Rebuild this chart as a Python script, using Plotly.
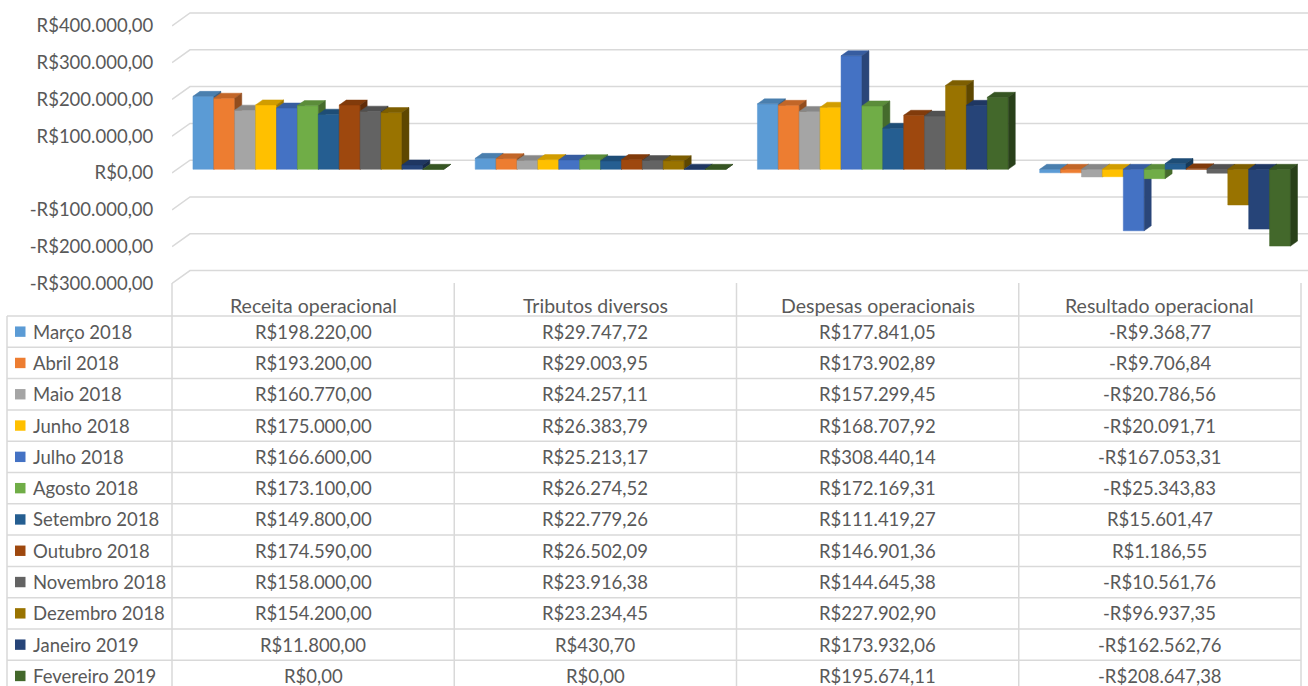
import plotly.graph_objects as go

# ---------------- data ----------------
categories = ["Receita operacional", "Tributos diversos", "Despesas operacionais", "Resultado operacional"]
months = ["Março 2018", "Abril 2018", "Maio 2018", "Junho 2018", "Julho 2018", "Agosto 2018",
          "Setembro 2018", "Outubro 2018", "Novembro 2018", "Dezembro 2018", "Janeiro 2019", "Fevereiro 2019"]
receita = [198220.00, 193200.00, 160770.00, 175000.00, 166600.00, 173100.00,
           149800.00, 174590.00, 158000.00, 154200.00, 11800.00, 0.00]
tributos = [29747.72, 29003.95, 24257.11, 26383.79, 25213.17, 26274.52,
            22779.26, 26502.09, 23916.38, 23234.45, 430.70, 0.00]
despesas = [177841.05, 173902.89, 157299.45, 168707.92, 308440.14, 172169.31,
            111419.27, 146901.36, 144645.38, 227902.90, 173932.06, 195674.11]
resultado = [-9368.77, -9706.84, -20786.56, -20091.71, -167053.31, -25343.83,
             15601.47, 1186.55, -10561.76, -96937.35, -162562.76, -208647.38]
colors = ["#5B9BD5", "#ED7D31", "#A5A5A5", "#FFC000", "#4472C4", "#70AD47",
          "#255E91", "#9E480E", "#636363", "#997300", "#264478", "#43682B"]
y_ticks = [-300000, -200000, -100000, 0, 100000, 200000, 300000, 400000]

series = [[receita[j], tributos[j], despesas[j], resultado[j]] for j in range(len(months))]


def brl(v):
    s = f"{abs(v):,.2f}".replace(",", "X").replace(".", ",").replace("X", ".")
    return ("-" if v < 0 else "") + "R$" + s


def shade(hexcol, f):
    h = hexcol.lstrip("#")
    r, g, b = (int(h[i:i + 2], 16) for i in (0, 2, 4))
    return f"rgb({int(r * f)},{int(g * f)},{int(b * f)})"


# ---------------- geometry ----------------
W, H = 1308, 686
L = 172
PX_PER_VAL = 0.000368
ZERO_PY = 169.3
COL0, COL_W = 172, 282.25
DEPTH_DX, DEPTH_DY = 18.0, 12.8
BAR_D0, BAR_D1 = 0.29, 0.68
BAR_W_PX = 20.9
FONT = "Lato"
FS = 18.5


def xd(px):
    return (px - (COL0 + COL_W / 2)) / COL_W


bar_w = BAR_W_PX / COL_W
shift = BAR_D0 * DEPTH_DX / COL_W
dx = (BAR_D1 - BAR_D0) * DEPTH_DX / COL_W
dyv = (BAR_D1 - BAR_D0) * DEPTH_DY / PX_PER_VAL
offF = BAR_D0 * DEPTH_DY / PX_PER_VAL
offB = (1 - BAR_D0) * DEPTH_DY / PX_PER_VAL

fig = go.Figure()

# gridlines (front wall slant + back wall)
gx, gy = [], []
for v in y_ticks:
    gx += [xd(172), xd(190), xd(1308), None]
    gy += [v - offF, v + offB, v + offB, None]
fig.add_trace(go.Scatter(x=gx, y=gy, mode="lines", line=dict(color="#D9D9D9", width=1.5),
                         hoverinfo="skip"))

# 3D bars
n = len(months)
for j in range(n):
    fx, fy, tx, ty, sx, sy = [], [], [], [], [], []
    for i, v in enumerate(series[j]):
        xc = i + shift + (j - (n - 1) / 2) * bar_w
        x0, x1 = xc - bar_w / 2, xc + bar_w / 2
        fx += [x0, x1, x1, x0, x0, None]
        fy += [0, 0, v, v, 0, None]
        t = max(v, 0)
        tx += [x0, x1, x1 + dx, x0 + dx, x0, None]
        ty += [t, t, t + dyv, t + dyv, t, None]
        sx += [x1, x1, x1 + dx, x1 + dx, x1, None]
        sy += [0, v, v + dyv, dyv, 0, None]
    c = colors[j]
    for xs, ys, col in ((fx, fy, c), (tx, ty, shade(c, 0.82)), (sx, sy, shade(c, 0.62))):
        fig.add_trace(go.Scatter(x=xs, y=ys, mode="lines", fill="toself", fillcolor=col,
                                 line=dict(color=col, width=0.5), hoverinfo="skip",
                                 name=months[j]))

# ---------------- data table ----------------
def px(xp):
    return (xp - L) / (W - L)


def py(yp):
    return 1 - yp / H


ROW0, ROW_H = 316, 31.3
COL_EDGES = [COL0 + COL_W * k for k in range(len(categories) + 1)]
shapes = []
line_col = "#D9D9D9"
for k in range(len(months)):
    yy = ROW0 + ROW_H * k
    shapes.append(dict(type="line", xref="paper", yref="paper", x0=px(7), x1=px(COL_EDGES[-1]),
                       y0=py(yy), y1=py(yy), line=dict(color=line_col, width=1.5)))
shapes.append(dict(type="line", xref="paper", yref="paper", x0=px(7), x1=px(7),
                   y0=py(ROW0), y1=py(H + 5), line=dict(color=line_col, width=1.5)))
for xe in COL_EDGES:
    shapes.append(dict(type="line", xref="paper", yref="paper", x0=px(xe), x1=px(xe),
                       y0=py(283), y1=py(H + 5), line=dict(color=line_col, width=1.5)))
for k, c in enumerate(colors):
    yc = ROW0 + ROW_H * (k + 0.5)
    shapes.append(dict(type="rect", xref="paper", yref="paper", x0=px(15), x1=px(25.5),
                       y0=py(yc - 5.2), y1=py(yc + 5.2), fillcolor=c, line=dict(width=0)))

annotations = []
for i, cat in enumerate(categories):
    xc = COL_EDGES[i] + COL_W / 2
    annotations.append(dict(text=cat, xref="paper", yref="paper", x=px(xc), y=py(305),
                            xanchor="center", yanchor="middle", showarrow=False,
                            font=dict(size=19.5)))
    for k in range(len(months)):
        yc = ROW0 + ROW_H * (k + 0.5)
        annotations.append(dict(text=brl(series[k][i]), xref="paper", yref="paper", x=px(xc),
                                y=py(yc), xanchor="center", yanchor="middle", showarrow=False))
for k, m in enumerate(months):
    yc = ROW0 + ROW_H * (k + 0.5)
    annotations.append(dict(text=m, xref="paper", yref="paper", x=px(31), y=py(yc),
                            xanchor="left", yanchor="middle", showarrow=False))

fig.update_layout(
    width=W, height=H, margin=dict(l=L, r=0, t=0, b=0),
    paper_bgcolor="white", plot_bgcolor="white", showlegend=False,
    font=dict(family=FONT, size=FS, color="#595959"),
    xaxis=dict(range=[xd(172), xd(1308)], showgrid=False, zeroline=False,
               showticklabels=False, fixedrange=True),
    yaxis=dict(range=[(ZERO_PY - H) / PX_PER_VAL, ZERO_PY / PX_PER_VAL],
               tickvals=[v - offF for v in y_ticks], ticktext=[brl(v) for v in y_ticks],
               showgrid=False, zeroline=False, ticks="outside", ticklen=14,
               tickcolor="rgba(0,0,0,0)", fixedrange=True),
    shapes=shapes, annotations=annotations,
)
fig.write_html(
    "out.html",
    config={"displayModeBar": False},
    post_script="document.body.style.margin='0';document.body.style.padding='0';"
                "document.body.style.overflow='hidden';",
)
